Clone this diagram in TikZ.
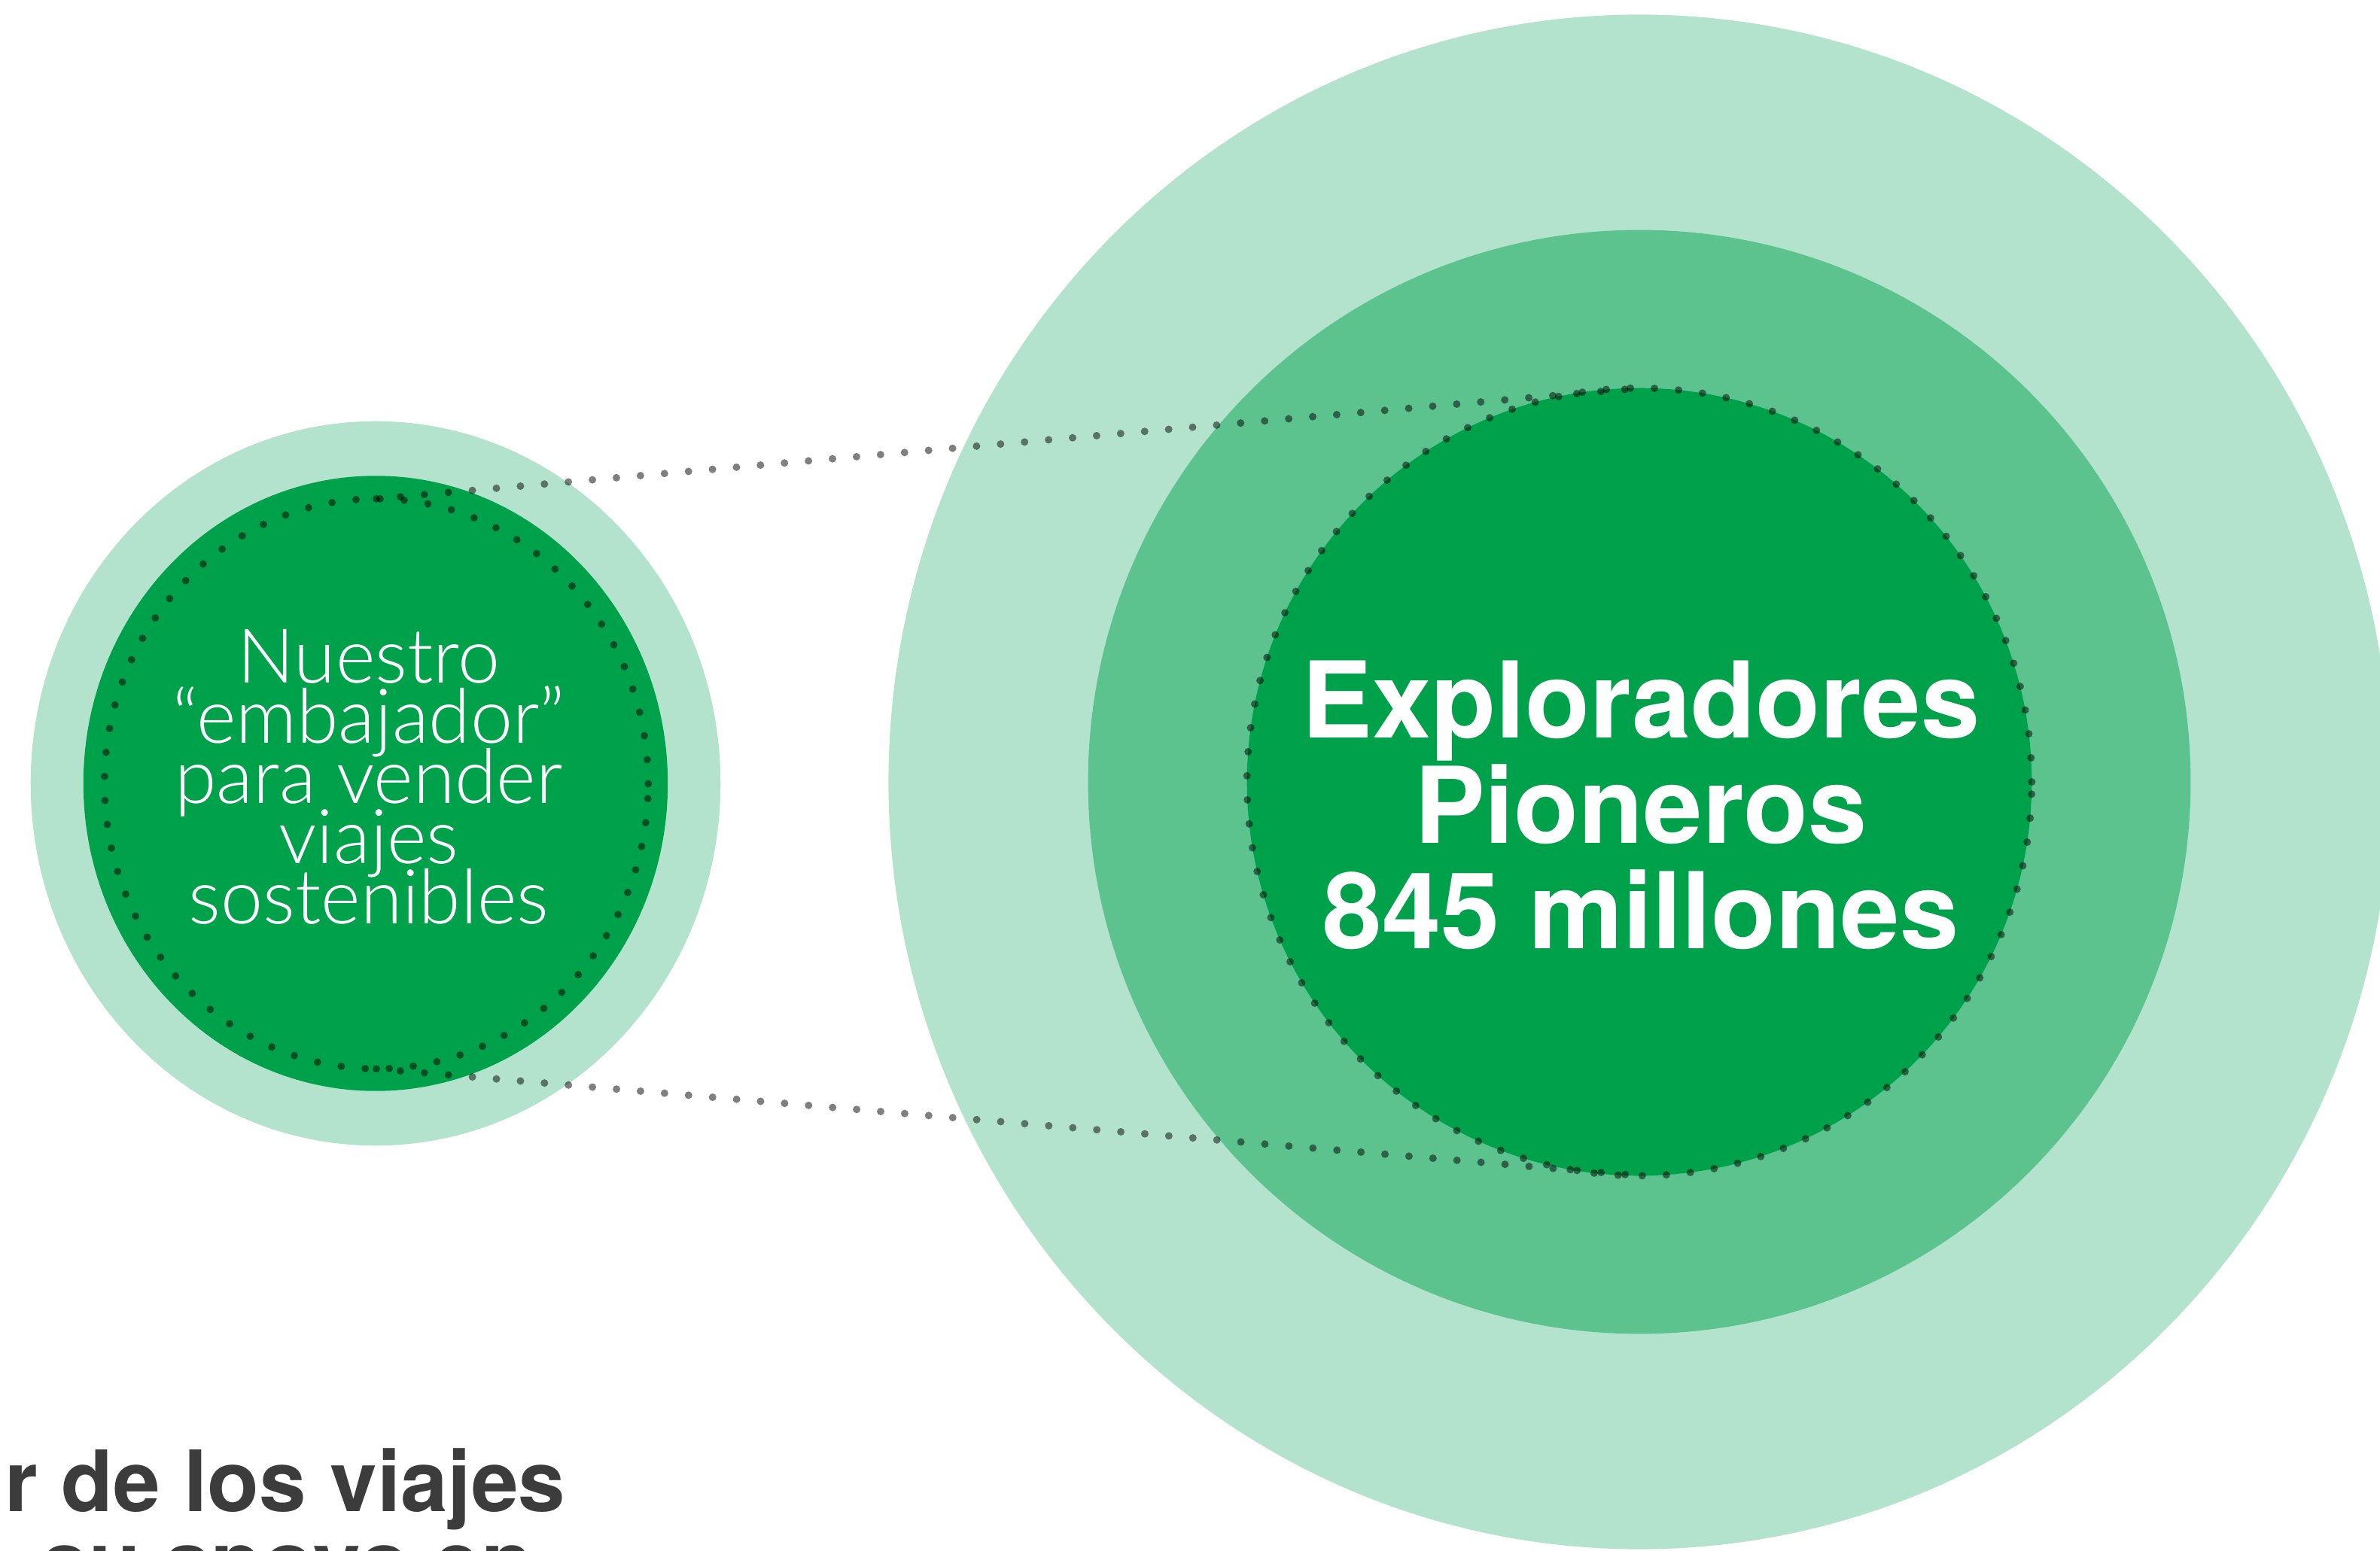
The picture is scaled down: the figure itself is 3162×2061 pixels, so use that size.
\documentclass[tikz,border=0pt]{standalone}
\usepackage{fontspec}
\setmainfont{TeX Gyre Heros}
\newfontfamily\lightfont{Lato}[UprightFont={* Light}]
\usetikzlibrary{shapes.geometric}
\definecolor{lightg}{HTML}{B3E3CD}
\definecolor{midg}{HTML}{5CC28E}
\definecolor{darkg}{HTML}{00A14B}
\definecolor{txtgray}{HTML}{3C3C3C}
\tikzset{
  disc/.style={ellipse, inner sep=0pt, outer sep=0pt, draw=none},
  dotring/.style={ellipse, inner sep=0pt, outer sep=0pt, draw=black, draw opacity=0.5,
    line width=0.1cm, line cap=round, dash pattern=on 0pt off 0.32cm},
  dotline/.style={draw=black, draw opacity=0.5, line width=0.1cm, line cap=round,
    dash pattern=on 0pt off 0.32cm},
  smalltxt/.style={text=white, font=\lightfont\fontsize{28.6}{22.8}\selectfont, anchor=base, inner sep=0pt},
  bigtxt/.style={text=white, font=\bfseries\fontsize{40}{40}\selectfont, anchor=base, inner sep=0pt},
  foottxt/.style={text=txtgray, font=\bfseries\fontsize{32}{32}\selectfont, inner sep=0pt},
}
\begin{document}
\begin{tikzpicture}[x=0.01cm,y=-0.01cm]
\useasboundingbox (0,0) rectangle (3162,2061);
\clip (0,0) rectangle (3162,2061);
% small circle
\node[disc, fill=lightg, minimum width=9.16cm, minimum height=9.62cm] (sOuter) at (499,1041) {};
\node[disc, fill=darkg, minimum width=7.76cm, minimum height=8.17cm] (sInner) at (499,1041) {};
% big circle
\node[disc, fill=lightg, minimum width=19.94cm, minimum height=20.38cm] (bOuter) at (2178,1039) {};
\node[disc, fill=midg, minimum width=14.64cm, minimum height=14.66cm] (bMid) at (2178,1039) {};
\node[disc, fill=darkg, minimum width=10.42cm, minimum height=10.46cm] (bInner) at (2178,1039) {};
% texts
\node[smalltxt] (s1) at (490,907) {Nuestro};
\node[smalltxt] (s2) at (490,987) {“embajador”};
\node[smalltxt] (s3) at (490,1067) {para vender};
\node[smalltxt] (s4) at (490,1147) {viajes};
\node[smalltxt] (s5) at (490,1227) {sostenibles};
\node[bigtxt] (b1) at (2180,980) {Exploradores};
\node[bigtxt] (b2) at (2180,1120) {Pioneros};
\node[bigtxt] (b3) at (2180,1260) {845 millones};
\node[foottxt, anchor=base east] (f1) at (752,2008) {r de los viajes};
\node[foottxt, anchor=base west] (f2) at (55,2115) {su apoyo en};
% dotted rings and connectors
\node[dotring, minimum width=7.22cm, minimum height=7.57cm] (sRing) at (500,1041.5) {};
\node[dotring, minimum width=10.42cm, minimum height=10.46cm] (bRing) at (2178,1039) {};
\draw[dotline] (sRing.north) -- (bRing.north);
\draw[dotline] (sRing.south) -- (bRing.south);
\end{tikzpicture}
\end{document}
